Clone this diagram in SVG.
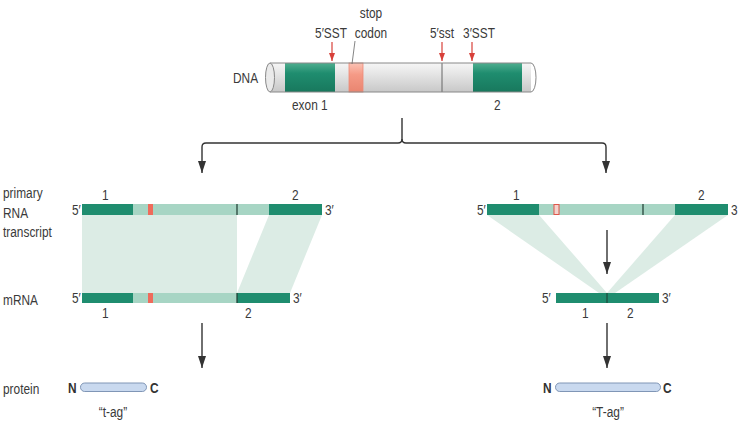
<svg xmlns="http://www.w3.org/2000/svg" width="740" height="437" viewBox="0 0 740 437">
<defs>
<style>
text{font-family:"Liberation Sans",Arial,sans-serif;font-size:14.5px;fill:#3a3a3a;transform-box:fill-box;transform-origin:0 0;transform:scaleX(0.82)}
.m{text-anchor:middle;transform-origin:50% 0}
.b{font-weight:bold;font-size:14.5px;fill:#333}
.dk{fill:#1f8d6f}
.lt{fill:#a7d5c4}
.sh{fill:#dcece5}
.ln{stroke:#333;stroke-width:1.4;fill:none}
.red{stroke:#d8413a;stroke-width:1.2}
.pill{fill:#c9d9ef;stroke:#8096b6;stroke-width:1}
.jn{stroke:#1d3a30;stroke-width:1.2}
</style>
<linearGradient id="gc" x1="0" y1="0" x2="0" y2="1">
<stop offset="0" stop-color="#f6f6f6"/><stop offset="0.4" stop-color="#e4e4e4"/><stop offset="1" stop-color="#c8c8c8"/>
</linearGradient>
<linearGradient id="gg" x1="0" y1="0" x2="0" y2="1">
<stop offset="0" stop-color="#4fae8f"/><stop offset="0.35" stop-color="#1f8d6f"/><stop offset="1" stop-color="#18785d"/>
</linearGradient>
<linearGradient id="gp" x1="0" y1="0" x2="0" y2="1">
<stop offset="0" stop-color="#fbc3b5"/><stop offset="0.4" stop-color="#f59a86"/><stop offset="1" stop-color="#e98570"/>
</linearGradient>
<marker id="ah" markerWidth="13" markerHeight="8" refX="12" refY="4" orient="auto" markerUnits="userSpaceOnUse" viewBox="0 0 13 8">
<path d="M0,0 L12,4 L0,8 Z" fill="#333"/>
</marker>
<marker id="ra" markerWidth="9" markerHeight="6" refX="8" refY="3" orient="auto" markerUnits="userSpaceOnUse" viewBox="0 0 9 6">
<path d="M0,0 L8,3 L0,6 Z" fill="#d8413a"/>
</marker>
</defs>
<rect width="740" height="437" fill="#fff"/>

<g id="dna">
<rect x="270" y="63" width="261" height="29" fill="url(#gc)"/>
<rect x="285" y="63" width="50" height="29" fill="url(#gg)"/>
<rect x="473" y="63" width="49" height="29" fill="url(#gg)"/>
<rect x="349" y="63" width="14" height="29" fill="url(#gp)" stroke="#ee8a78" stroke-width="0.8"/>
<line x1="442" y1="63" x2="442" y2="92" stroke="#666" stroke-width="1"/>
<path d="M270,63 H531 A5,14.5 0 0 1 531,92 H270" fill="none" stroke="#888" stroke-width="1"/>
<ellipse cx="270" cy="77.5" rx="4.5" ry="14.5" fill="#eaeaea" stroke="#888" stroke-width="1"/>
<text x="233" y="83">DNA</text>
<text x="292" y="110">exon 1</text>
<text x="494" y="110">2</text>
</g>

<g id="dna-labels">
<text class="m" x="331" y="38">5′SST</text>
<text class="m" x="371" y="18">stop</text>
<text class="m" x="371" y="38">codon</text>
<line x1="355" y1="41" x2="352" y2="64" stroke="#666" stroke-width="0.8"/>
<text class="m" x="442" y="38">5′sst</text>
<text class="m" x="479" y="38">3′SST</text>
<line x1="332" y1="42" x2="332" y2="61" class="red" marker-end="url(#ra)"/>
<line x1="442" y1="42" x2="442" y2="61" class="red" marker-end="url(#ra)"/>
<line x1="472" y1="42" x2="472" y2="61" class="red" marker-end="url(#ra)"/>
</g>

<g id="connectors">
<path class="ln" d="M402,118 V139 Q402,143 398,143 H206 Q202,143 202,147 V173" marker-end="url(#ah)"/>
<path class="ln" d="M402,139 Q402,143 406,143 H602 Q606,143 606,147 V173" marker-end="url(#ah)"/>
<line class="ln" x1="202" y1="230" x2="202" y2="274" marker-end="url(#ah)"/>
<line class="ln" x1="607" y1="230" x2="607" y2="274" marker-end="url(#ah)"/>
<line class="ln" x1="202" y1="323" x2="202" y2="368" marker-end="url(#ah)"/>
<line class="ln" x1="607" y1="323" x2="607" y2="368" marker-end="url(#ah)"/>
</g>

<g id="left-splicing">
<polygon class="sh" points="82,215 237,215 237,293 82,293"/>
<polygon class="sh" points="269,215 322,215 290,293 237,293"/>
</g>

<g id="left-primary">
<rect class="dk" x="82" y="204" width="51" height="11"/>
<rect class="lt" x="133" y="204" width="136" height="11"/>
<rect class="dk" x="269" y="204" width="53" height="11"/>
<rect x="148" y="204" width="5" height="11" fill="#ef6b5b"/>
<line class="jn" x1="237" y1="204" x2="237" y2="215"/>
<text x="72" y="215">5′</text>
<text x="325" y="215">3′</text>
<text x="102" y="200">1</text>
<text x="292" y="200">2</text>
</g>

<g id="left-mrna">
<rect class="dk" x="82" y="293" width="51" height="10"/>
<rect class="lt" x="133" y="293" width="104" height="10"/>
<rect class="dk" x="237" y="293" width="53" height="10"/>
<rect x="148" y="293" width="5" height="10" fill="#ef6b5b"/>
<line class="jn" x1="237" y1="293" x2="237" y2="303"/>
<text x="72" y="303">5′</text>
<text x="293" y="303">3′</text>
<text x="102" y="318">1</text>
<text x="245" y="318">2</text>
</g>

<g id="right-splicing">
<polygon class="sh" points="487,215 539,215 607,293 599,293"/>
<polygon class="sh" points="675,215 728,215 615,293 607,293"/>
</g>

<g id="right-primary">
<rect class="dk" x="487" y="204" width="52" height="11"/>
<rect class="lt" x="539" y="204" width="136" height="11"/>
<rect class="dk" x="675" y="204" width="53" height="11"/>
<rect x="554" y="204.5" width="5" height="10" fill="#f4d2cc" stroke="#e0574a" stroke-width="1"/>
<line class="jn" x1="643" y1="204" x2="643" y2="215"/>
<text x="477" y="215">5′</text>
<text x="731" y="215">3</text>
<text x="513" y="200">1</text>
<text x="698" y="200">2</text>
</g>

<g id="right-mrna">
<rect class="dk" x="556" y="293" width="103" height="10"/>
<line x1="607" y1="293" x2="607" y2="303" stroke="#1d3a30" stroke-width="1"/>
<text x="542" y="303">5′</text>
<text x="662" y="303">3′</text>
<text x="582" y="318">1</text>
<text x="627" y="318">2</text>
</g>

<g id="left-labels">
<text x="3" y="198">primary</text>
<text x="3" y="218">RNA</text>
<text x="3" y="237">transcript</text>
<text x="3" y="305">mRNA</text>
<text x="3" y="394">protein</text>
</g>

<g id="protein-left">
<rect class="pill" x="80.5" y="383" width="66" height="8.5" rx="4.2"/>
<text class="b" x="68" y="393">N</text>
<text class="b" x="150" y="393">C</text>
<text class="m" x="113" y="417">“t-ag”</text>
</g>

<g id="protein-right">
<rect class="pill" x="555.5" y="383" width="105" height="8.5" rx="4.2"/>
<text class="b" x="543" y="393">N</text>
<text class="b" x="663" y="393">C</text>
<text class="m" x="608" y="417">“T-ag”</text>
</g>
</svg>
